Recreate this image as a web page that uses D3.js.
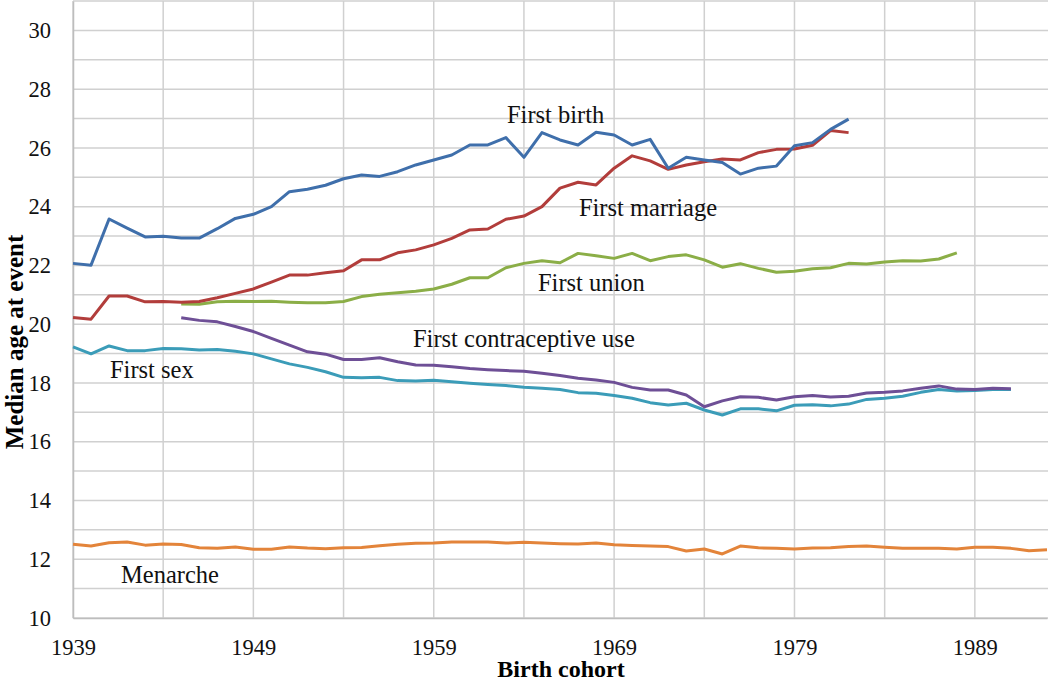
<!DOCTYPE html>
<html>
<head>
<meta charset="utf-8">
<script src="https://cdn.jsdelivr.net/npm/d3@7"></script>
<style>
  body { margin: 0; background: #fff; }
  svg { display: block; }
  svg text { font-family: "Liberation Serif", "Times New Roman", serif; }
</style>
</head>
<body>
<svg id="chart" width="1050" height="683"></svg>
<script>
const cohorts = [1939,1940,1941,1942,1943,1944,1945,1946,1947,1948,
  1949,1950,1951,1952,1953,1954,1955,1956,1957,1958,
  1959,1960,1961,1962,1963,1964,1965,1966,1967,1968,
  1969,1970,1971,1972,1973,1974,1975,1976,1977,1978,
  1979,1980,1981,1982,1983,1984,1985,1986,1987,1988,
  1989,1990,1991,1992,1993]

const xTickLabels = [1939, 1949, 1959, 1969, 1979, 1989]
const yTickLabels = [10, 12, 14, 16, 18, 20, 22, 24, 26, 28, 30]

const menarche = [12.51,12.45,12.56,12.59,12.48,12.52,12.5,12.39,12.37,12.42,
  12.34,12.34,12.42,12.38,12.36,12.39,12.4,12.46,12.51,12.54,
  12.55,12.59,12.59,12.59,12.55,12.58,12.55,12.53,12.52,12.55,
  12.49,12.47,12.45,12.43,12.28,12.35,12.18,12.45,12.39,12.37,
  12.35,12.38,12.39,12.43,12.45,12.41,12.37,12.37,12.37,12.35,
  12.41,12.41,12.37,12.29,12.32]

const firstSex = [19.23,18.99,19.26,19.1,19.1,19.17,19.16,19.12,19.14,19.08,
  18.99,18.82,18.65,18.53,18.38,18.19,18.18,18.19,18.08,18.07,
  18.09,18.04,17.99,17.95,17.91,17.85,17.82,17.78,17.67,17.65,
  17.57,17.48,17.33,17.25,17.31,17.08,16.91,17.12,17.12,17.05,
  17.24,17.26,17.22,17.28,17.44,17.48,17.55,17.68,17.78,17.73,
  17.74,17.78,17.78,null,null]

const firstContraceptive = [null,null,null,null,null,null,20.22,20.13,20.08,19.92,
  19.75,19.52,19.29,19.06,18.98,18.8,18.8,18.86,18.72,18.61,
  18.6,18.55,18.49,18.45,18.42,18.4,18.33,18.25,18.16,18.1,
  18.02,17.85,17.76,17.76,17.59,17.19,17.39,17.53,17.51,17.42,
  17.53,17.57,17.52,17.55,17.66,17.68,17.73,17.82,17.9,17.79,
  17.78,17.82,17.8,null,null]

const firstUnion = [null,null,null,null,null,null,20.69,20.68,20.76,20.78,
  20.77,20.78,20.75,20.73,20.73,20.77,20.94,21.02,21.07,21.12,
  21.2,21.36,21.58,21.58,21.92,22.07,22.16,22.09,22.41,22.33,
  22.24,22.41,22.16,22.3,22.36,22.19,21.94,22.06,21.9,21.77,
  21.8,21.89,21.92,22.07,22.05,22.12,22.16,22.15,22.22,22.43,
  null,null,null,null,null]

const firstMarriage = [20.23,20.17,20.96,20.96,20.76,20.77,20.75,20.77,20.9,21.05,
  21.2,21.43,21.67,21.67,21.75,21.82,22.19,22.19,22.43,22.53,
  22.7,22.92,23.21,23.24,23.57,23.68,24.0,24.63,24.83,24.74,
  25.31,25.73,25.56,25.27,25.42,25.53,25.62,25.59,25.84,25.95,
  25.96,26.09,26.59,26.52,null,null,null,null,null,null,
  null,null,null,null,null]

const firstBirth = [22.07,22.01,23.58,23.27,22.97,22.99,22.93,22.93,23.25,23.6,
  23.74,24.0,24.51,24.59,24.73,24.95,25.08,25.03,25.19,25.42,
  25.59,25.76,26.1,26.1,26.35,25.68,26.52,26.27,26.1,26.53,
  26.44,26.1,26.29,25.31,25.68,25.59,25.5,25.11,25.31,25.38,
  26.07,26.18,26.63,26.98,null,null,null,null,null,null,
  null,null,null,null,null]

const seriesNames = ["Menarche", "First sex", "First contraceptive use", "First union", "First marriage", "First birth"]
const seriesValues = [menarche, firstSex, firstContraceptive, firstUnion, firstMarriage, firstBirth]
const seriesColors = ["#e3843a", "#3b9cb8", "#6e4f96", "#8bae47", "#b23d3b", "#3f6fab"]
// label anchor (cohort, age) for each series name, left edge / baseline
const labelAt = [[1941.66, 11.2], [1941.05, 18.17], [1957.85, 19.22], [1964.78, 21.14], [1967.05, 23.68], [1963.06, 26.85]]

const width = 1050, height = 683
const svg = d3.select("#chart")

const x = d3.scaleLinear().domain([1939, 1993]).range([73, 1047])
const y = d3.scaleLinear().domain([10, 31]).range([618, 1])

// gridlines
svg.append("g")
  .selectAll("line")
  .data(d3.range(10, 32))
  .enter().append("line")
  .attr("x1", x(1939)).attr("x2", x(1993) + 1)
  .attr("y1", d => y(d)).attr("y2", d => y(d))
  .attr("stroke", "#d0d0d0").attr("stroke-width", 1.5)

svg.append("g")
  .selectAll("line")
  .data(d3.range(1939, 1993, 5))
  .enter().append("line")
  .attr("x1", d => x(d)).attr("x2", d => x(d))
  .attr("y1", y(31)).attr("y2", y(10))
  .attr("stroke", "#d0d0d0").attr("stroke-width", 1.5)

// axes
const styleAxis = g => {
  g.attr("font-family", null).attr("font-size", null)
  g.select(".domain").attr("stroke", "#bdbdbd").attr("stroke-width", 1.5)
  g.selectAll("text")
    .style("font-family", "'Liberation Serif', serif")
    .style("font-size", "22.5px")
    .attr("fill", "#111")
}

const xAxis = d3.axisBottom(x)
  .tickValues(xTickLabels)
  .tickFormat(d3.format("d"))
  .tickSize(0)
  .tickPadding(21)
svg.append("g")
  .attr("transform", "translate(0," + y(10) + ")")
  .call(xAxis)
  .call(styleAxis)

const yAxis = d3.axisLeft(y)
  .tickValues(yTickLabels)
  .tickSize(0)
  .tickPadding(22)
svg.append("g")
  .attr("transform", "translate(" + x(1939) + ",0)")
  .call(yAxis)
  .call(styleAxis)

// lines
const line = d3.line()
  .defined(d => d[1] != null)
  .x(d => x(d[0]))
  .y(d => y(d[1]))

seriesValues.forEach((vals, i) => {
  svg.append("path")
    .datum(cohorts.map((c, j) => [c, vals[j]]))
    .attr("fill", "none")
    .attr("stroke", seriesColors[i])
    .attr("stroke-width", 3)
    .attr("stroke-linejoin", "round")
    .attr("d", line)
})

// series labels
svg.append("g")
  .selectAll("text")
  .data(seriesNames)
  .enter().append("text")
  .attr("x", (d, i) => x(labelAt[i][0]))
  .attr("y", (d, i) => y(labelAt[i][1]))
  .attr("font-size", 24.5)
  .attr("fill", "#111")
  .text(d => d)

// axis titles
svg.append("text")
  .attr("x", 561).attr("y", 677)
  .attr("text-anchor", "middle")
  .attr("font-size", 24).attr("font-weight", "bold")
  .text("Birth cohort")

svg.append("text")
  .attr("transform", "translate(23,342) rotate(-90)")
  .attr("text-anchor", "middle")
  .attr("font-size", 25).attr("font-weight", "bold")
  .text("Median age at event")
</script>
</body>
</html>
